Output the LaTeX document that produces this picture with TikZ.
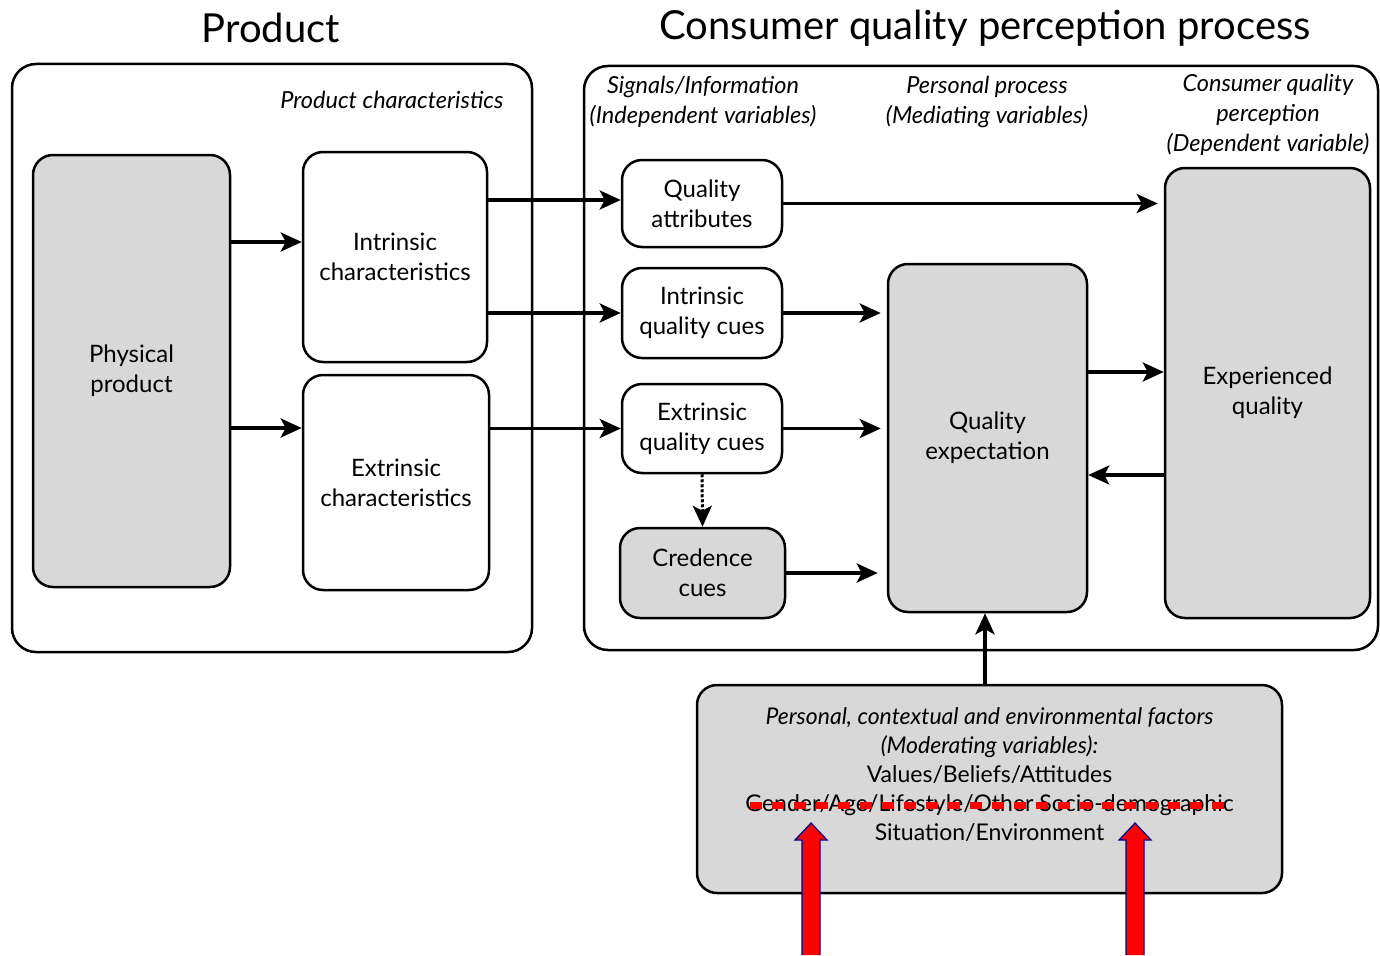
\documentclass[tikz,border=0pt]{standalone}
\usepackage{fontspec}
\setmainfont{Lato}
\usetikzlibrary{arrows.meta, positioning}
\definecolor{boxgray}{RGB}{216,216,216}
\tikzset{
  frame/.style={draw, line width=2.5pt, rounded corners=24pt},
  card/.style={draw, line width=2.5pt, rounded corners=20pt, align=center, inner sep=0pt, font=\fontsize{24}{30}\selectfont},
  shaded/.style={card, fill=boxgray},
  hdr/.style={align=center, font=\fontsize{23.5}{30}\selectfont\itshape},
  link/.style={-{Stealth[length=21pt,width=19pt,inset=5pt]}, line width=3.5pt},
}

\begin{document}
\begin{tikzpicture}[x=1pt, y=-1pt]
\useasboundingbox (0,0) rectangle (1380,955);

% titles
\node[font=\fontsize{40}{46}\selectfont] (ttlprod) at (271,28) {Product};
\node[font=\fontsize{40}{46}\selectfont] (ttlproc) at (985,28) {Consumer quality perception process};

% frames
\draw[frame] (12,64) rectangle (532,652);
\draw[frame] (584,66) rectangle (1378,650);

% headers
\node[hdr, anchor=east] (hdrprod) at (507,100) {Product characteristics};
\node[hdr] (hdrsig) at (703,102) {Signals/Information\\(Independent variables)};
\node[hdr] (hdrpers) at (987,102) {Personal process\\(Mediating variables)};
\node[hdr] (hdrcons) at (1268,115) {Consumer quality\\perception\\(Dependent variable)};

% product side
\node[shaded, minimum width=197, minimum height=432] (phys) at (131.5,371) {Physical\\product};
\node[card, minimum width=184, minimum height=210] (intc) at (395,257) {Intrinsic\\characteristics};
\node[card, minimum width=186, minimum height=215] (extc) at (396,482.5) {Extrinsic\\characteristics};

% signals
\node[card, minimum width=160, minimum height=87] (qattr) at (702,203.5) {Quality\\attributes};
\node[card, minimum width=160, minimum height=90] (iqc) at (702,313) {Intrinsic\\quality cues};
\node[card, minimum width=160, minimum height=89] (eqc) at (702,428.5) {Extrinsic\\quality cues};
\node[shaded, minimum width=165, minimum height=90] (cred) at (702.5,573) {Credence\\cues};

% process and perception
\node[shaded, minimum width=199, minimum height=348] (qexp) at (987.5,438) {Quality\\expectation};
\node[shaded, minimum width=205, minimum height=450] (expq) at (1267.5,393) {Experienced\\quality};

% moderating factors
\node[shaded, minimum width=585, minimum height=208] (factors) at (989.5,789) {};
\node[anchor=north, align=center, font=\fontsize{23}{29}\selectfont] (factxt) at ([yshift=-20pt]factors.north)
  {\textit{Personal, contextual and environmental factors}\\\textit{(Moderating variables):}\\Values/Beliefs/Attitudes\\Gender/Age/Lifestyle/Other Socio-demographic\\Situation/Environment};

% connectors
\draw[link] (phys.east |- 0,242) -- (intc.west |- 0,242);
\draw[link] (phys.east |- 0,428) -- (extc.west |- 0,428);
\draw[link] (intc.east |- 0,200) -- (qattr.west |- 0,200);
\draw[link] (intc.east |- iqc.west) -- (iqc.west);
\draw[link] (extc.east |- eqc.west) -- (eqc.west);
\draw[link, shorten >=6pt] (qattr.east) -- (expq.west |- qattr.east);
\draw[link, shorten >=6pt] (iqc.east) -- (qexp.west |- iqc.east);
\draw[link, shorten >=6pt] (eqc.east) -- (qexp.west |- eqc.east);
\draw[link, shorten >=9pt] (cred.east) -- (qexp.west |- cred.east);
\draw[link] (qexp.east |- 0,372) -- (expq.west |- 0,372);
\draw[link] (expq.west |- 0,475) -- (qexp.east |- 0,475);
\draw[link] (factors.north -| 985,0) -- (qexp.south -| 985,0);
\draw[link, line width=3pt, dotted] (eqc.south) -- (cred.north);

% red marks
\draw[red, line width=7pt, dash pattern=on 12pt off 10pt] (750,805) -- (1233,805);
\foreach \ax in {811,1135}
  \draw[fill=red, draw=blue!60!black, line width=1.2pt]
    (\ax-9,955) -- (\ax-9,840) -- (\ax-16,840) -- (\ax,823) -- (\ax+16,840) -- (\ax+9,840) -- (\ax+9,955);
\end{tikzpicture}
\end{document}
